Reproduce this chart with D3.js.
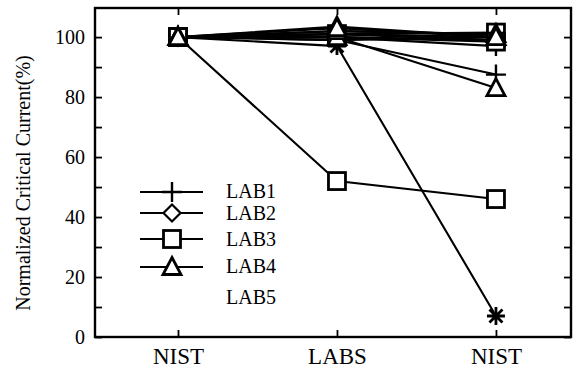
<!DOCTYPE html>
<html><head><meta charset="utf-8">
<script src="https://cdn.jsdelivr.net/npm/d3@7"></script>
</head><body style="margin:0;background:#fff"><div id="c"></div>
<script>
const categories = ["NIST", "LABS", "NIST"];
const yTicks = [0, 20, 40, 60, 80, 100];
const labs = ["LAB1", "LAB2", "LAB3", "LAB4", "LAB5"];
const markers = ["plus", "diamond", "square", "triangle", "asterisk"];
// sample traces per lab (values at NIST, LABS, NIST)
const lab1 = [[100, 99, 87.5], [100, 100, 97], [100, 101, 99]];
const lab2 = [[100, 101, 100], [100, 100, 99], [100, 102, 101]];
const lab3 = [[100, 52, 46], [100, 101, 101.5], [100, 100, 98.5]];
const lab4 = [[100, 103.5, 100], [100, 100, 83], [100, 102, 101], [100, 103, 100]];
const lab5 = [[100, 97, 7], [100, 99, 100]];
const labSeries = [lab1, lab2, lab3, lab4, lab5];
const drawOrder = [4, 0, 1, 2, 3];

const W = 575, H = 371;
const L = 95, R = 571, T = 8, B = 337;
const svg = d3.select("#c").append("svg").attr("width", W).attr("height", H).style("display", "block");
const x = d3.scaleLinear().domain([-0.522, 2.472]).range([L, R]);
const y = d3.scaleLinear().domain([0, 109.7]).range([B, T]);

function marker(g, type, cx, cy) {
  const s = g.append("g").attr("transform", `translate(${cx},${cy})`);
  if (type === "square") s.append("rect").attr("x", -8.5).attr("y", -8.5).attr("width", 17).attr("height", 17).attr("fill", "#fff").attr("stroke", "#000").attr("stroke-width", 2.8);
  else if (type === "triangle") s.append("path").attr("d", "M0,-9.5L9,7.5L-9,7.5Z").attr("fill", "#fff").attr("stroke", "#000").attr("stroke-width", 2.8).attr("stroke-linejoin", "miter");
  else if (type === "diamond") s.append("path").attr("d", "M0,-8.5L8.5,0L0,8.5L-8.5,0Z").attr("fill", "#fff").attr("stroke", "#000").attr("stroke-width", 2.2);
  else if (type === "plus") s.append("path").attr("d", "M-10,0H10M0,-10V10").attr("stroke", "#000").attr("stroke-width", 2.4);
  else if (type === "asterisk") s.append("path").attr("d", "M-9,0H9M0,-9V9M-6.5,-6.5L6.5,6.5M-6.5,6.5L6.5,-6.5").attr("stroke", "#000").attr("stroke-width", 2.8);
}

// axis frame
svg.append("rect").attr("x", L).attr("y", T).attr("width", R - L).attr("height", B - T).attr("fill", "none").attr("stroke", "#000").attr("stroke-width", 2.4);

// y ticks
const minor = d3.range(0, 110, 10);
const styleTicks = g => { g.select(".domain").remove(); g.selectAll("line").attr("stroke-width", 1.8); };
svg.append("g").attr("transform", `translate(${L},0)`).call(d3.axisLeft(y).tickValues(minor).tickSize(-7).tickFormat("")).call(styleTicks);
svg.append("g").attr("transform", `translate(${R},0)`).call(d3.axisRight(y).tickValues(minor).tickSize(-7).tickFormat("")).call(styleTicks);
svg.append("g").attr("transform", `translate(${L},0)`).call(d3.axisLeft(y).tickValues(yTicks).tickSize(0).tickPadding(10)).call(g => { g.select(".domain").remove(); g.selectAll("text").attr("font-size", 20); });

// x ticks
const xi = categories.map((d, i) => i);
svg.append("g").attr("transform", `translate(0,${B})`).call(d3.axisBottom(x).tickValues(xi).tickSize(-7).tickPadding(11).tickFormat(i => categories[i])).call(g => { styleTicks(g); g.selectAll("text").attr("font-size", 23); });
svg.append("g").attr("transform", `translate(0,${T})`).call(d3.axisTop(x).tickValues(xi).tickSize(-7).tickFormat("")).call(styleTicks);

// y title
svg.append("text").attr("transform", `translate(30,183) rotate(-90)`).attr("text-anchor", "middle").attr("font-size", 20).text("Normalized Critical Current(%)");

// lines
const line = d3.line().x((d, i) => x(i)).y(d => y(d));
const plot = svg.append("g");
labSeries.forEach(traces => traces.forEach(tr => {
  plot.append("path").attr("d", line(tr)).attr("fill", "none").attr("stroke", "#000").attr("stroke-width", 2.1);
}));
drawOrder.forEach(li => labSeries[li].forEach(tr => tr.forEach((v, i) => marker(plot, markers[li], x(i), y(v)))));

// legend
const lg = svg.append("g");
const legY = [192, 213, 239, 267, 298];
const legText = [198, 220, 246, 273, 304];
labs.forEach((name, i) => {
  if (i < 4) {
    lg.append("line").attr("x1", 140).attr("x2", 203).attr("y1", legY[i]).attr("y2", legY[i]).attr("stroke", "#000").attr("stroke-width", 2);
    marker(lg, markers[i], 172, legY[i]);
  }
  lg.append("text").attr("x", 226).attr("y", legText[i]).attr("font-size", 20).text(name);
});

svg.selectAll("text").style("font-family", '"Liberation Serif"').style("fill", "#000");
</script></body></html>
